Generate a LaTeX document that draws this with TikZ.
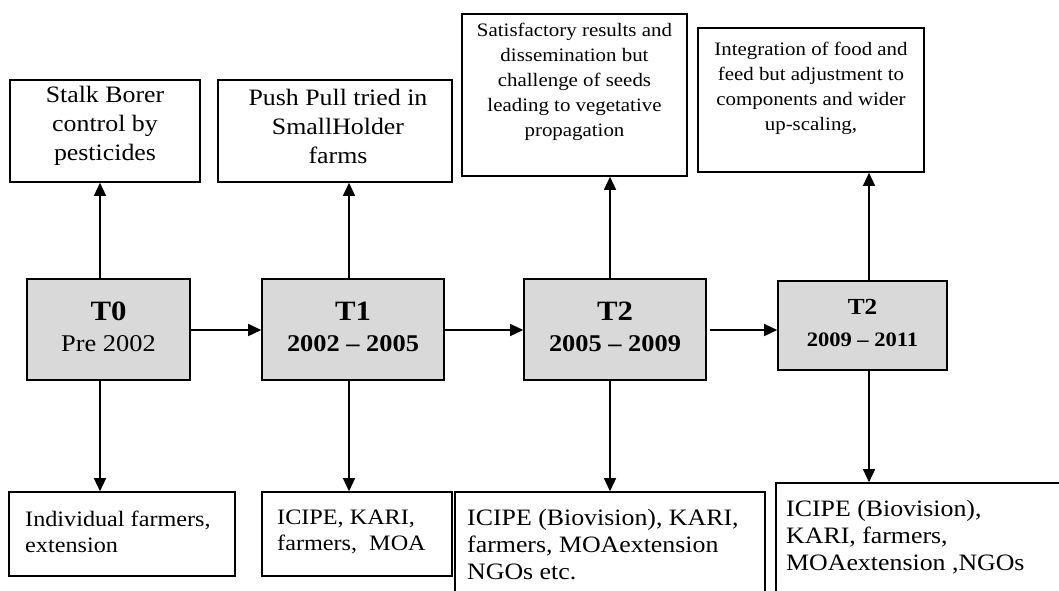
\documentclass[tikz,border=0pt]{standalone}
\usepackage{fontspec}
\setmainfont{Liberation Serif}[FakeStretch=1.1]
\usetikzlibrary{arrows.meta}
\definecolor{stagegray}{RGB}{217,217,217}
\newcommand{\topfont}{\fontsize{23.5}{29}\selectfont}
\newcommand{\notefont}{\fontsize{19}{25}\selectfont}
\newcommand{\actorfont}{\fontsize{22}{26.5}\selectfont}
\newcommand{\wideactorfont}{\fontsize{23.5}{27}\selectfont}
\newcommand{\titlefont}{\fontsize{28}{30}\selectfont\bfseries}
\newcommand{\datefont}{\fontsize{24}{26}\selectfont}
\begin{document}
\begin{tikzpicture}[x=1pt,y=-1pt,
  box/.style={draw, line width=1.6pt, inner sep=0pt},
  stage/.style={box, fill=stagegray},
  txt/.style={inner sep=0pt, align=center},
  ltxt/.style={inner sep=0pt, align=left, anchor=west},
  link/.style={line width=1.4pt, -{Triangle[length=13pt,width=12pt]}}]
\useasboundingbox (0,0) rectangle (1059,590);
\clip (0,0) rectangle (1059,590);

% outcomes (top row)
\node[box, minimum width=190pt, minimum height=102pt] (oa) at (105,131) {};
\node[box, minimum width=234pt, minimum height=102pt] (ob) at (335,131) {};
\node[box, minimum width=225pt, minimum height=162pt] (oc) at (574.5,95) {};
\node[box, minimum width=226pt, minimum height=144pt] (od) at (811,100) {};
\node[txt, font=\topfont] at (105,126) {Stalk Borer\\control by\\pesticides};
\node[txt, font=\topfont] at (338,126) {Push Pull tried in\\SmallHolder\\farms};
\node[txt, font=\notefont] at (574.5,82) {Satisfactory results and\\dissemination but\\challenge of seeds\\leading to vegetative\\propagation};
\node[txt, font=\notefont] at (811,88.5) {Integration of food and\\feed but adjustment to\\components and wider\\up-scaling,};

% stages (middle row)
\node[stage, minimum width=163pt, minimum height=101pt] (t0) at (108.5,329.5) {};
\node[stage, minimum width=182pt, minimum height=101pt] (t1) at (353,329.5) {};
\node[stage, minimum width=182pt, minimum height=101pt] (t2) at (615,329.5) {};
\node[stage, minimum width=169pt, minimum height=89pt] (t3) at (862.5,325.5) {};
\node[txt, font=\titlefont] at (108.5,311) {T0};
\node[txt, font=\datefont] at (108.5,344) {Pre 2002};
\node[txt, font=\titlefont] at (353,311) {T1};
\node[txt, font=\datefont\bfseries] at (353,344) {2002 -- 2005};
\node[txt, font=\titlefont] at (615,311) {T2};
\node[txt, font=\datefont\bfseries] at (615,344) {2005 -- 2009};
\node[txt, font=\fontsize{23}{25}\selectfont\bfseries] at (862.5,307) {T2};
\node[txt, font=\fontsize{20.5}{23}\selectfont\bfseries] at (862.5,340) {2009 -- 2011};

% actors (bottom row)
\node[box, minimum width=226pt, minimum height=84pt] (aa) at (122,534) {};
\node[box, minimum width=190pt, minimum height=84pt] (ab) at (357,534) {};
\node[box, minimum width=310pt, minimum height=140pt] (ac) at (610,562) {};
\node[box, minimum width=304pt, minimum height=150pt] (ad) at (928,558) {};
\node[ltxt, font=\actorfont] at (25,532) {Individual farmers,\\extension};
\node[ltxt, font=\actorfont] at (277,532) {ICIPE, KARI,\\farmers,\ \ MOA};
\node[ltxt, font=\wideactorfont] at (467,545) {ICIPE (Biovision), KARI,\\farmers, MOAextension\\NGOs etc.};
\node[ltxt, font=\wideactorfont] at (786,537) {ICIPE (Biovision),\\KARI, farmers,\\MOAextension ,NGOs};

% connectors
\coordinate (x0) at (100,0);
\coordinate (x1) at (349,0);
\coordinate (x2) at (610,0);
\coordinate (x3) at (869,0);
\coordinate (row) at (0,330);
\foreach \s/\o/\a/\x in {t0/oa/aa/x0, t1/ob/ab/x1, t2/oc/ac/x2, t3/od/ad/x3}{
  \draw[link] (\x |- \s.north) -- (\x |- \o.south);
  \draw[link] (\x |- \s.south) -- (\x |- \a.north);
}
\draw[link] (t0.east |- row) -- (t1.west |- row);
\draw[link] (t1.east |- row) -- (t2.west |- row);
\draw[link] ([xshift=3pt]t2.east |- row) -- (t3.west |- row);
\end{tikzpicture}
\end{document}
